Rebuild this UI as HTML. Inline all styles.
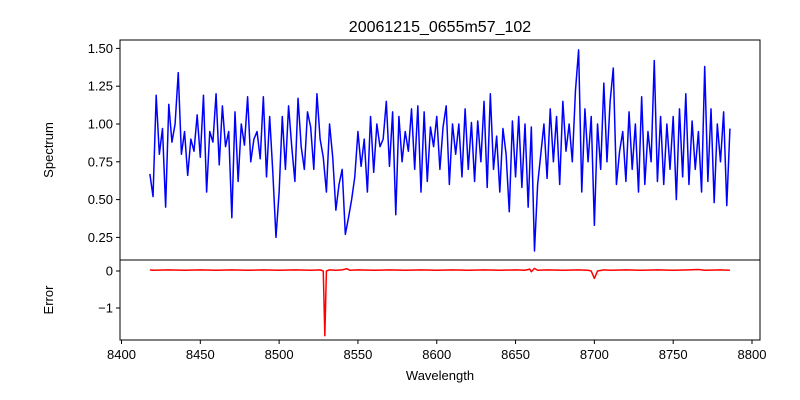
<!DOCTYPE html>
<html><head><meta charset="utf-8"><style>
body{margin:0;background:#fff;}
svg{display:block;font-family:"Liberation Sans","DejaVu Sans",sans-serif;}
</style></head><body>
<svg id="chart" width="800" height="400" xmlns="http://www.w3.org/2000/svg">
<rect width="800" height="400" fill="#fff"/>
<text x="440" y="32" font-size="16" text-anchor="middle">20061215_0655m57_102</text>
<g id="topPanel"></g>
<g id="botPanel"></g>
<text transform="translate(53,150) rotate(-90)" font-size="13" text-anchor="middle">Spectrum</text>
<text transform="translate(53,300) rotate(-90)" font-size="13" text-anchor="middle">Error</text>
<text x="440" y="380" font-size="13" text-anchor="middle">Wavelength</text>
</svg>
<script>
const specStart = 8418, specStep = 2;
const specValues = [
0.67,0.52,1.19,0.80,0.97,0.45,1.13,0.88,1.00,1.34,
0.80,0.95,0.66,0.90,0.82,1.06,0.78,1.19,0.55,0.95,
0.88,1.20,0.73,1.12,0.85,0.95,0.38,1.08,0.62,1.00,
0.86,1.18,0.75,0.90,0.95,0.77,1.18,0.65,1.05,0.68,
0.25,0.55,1.05,0.70,1.12,0.85,0.62,1.17,0.85,0.70,
1.08,0.98,0.70,1.20,0.90,0.78,0.55,1.00,0.78,0.43,
0.60,0.70,0.27,0.38,0.50,0.65,0.95,0.72,0.90,0.55,
1.05,0.68,1.00,0.85,0.90,1.15,0.72,1.08,0.40,1.05,
0.75,0.95,0.82,1.10,0.70,1.12,0.55,1.08,0.62,0.98,
0.85,1.05,0.70,0.98,1.12,0.60,1.00,0.80,1.00,0.65,
1.10,0.70,1.01,0.62,1.02,0.75,1.15,0.58,1.20,0.70,
0.92,0.55,0.97,0.80,0.42,1.02,0.65,1.05,0.58,1.00,
0.45,0.98,0.16,0.60,0.80,1.00,0.64,1.10,0.75,1.05,
0.60,1.15,0.82,1.00,0.75,1.22,1.49,0.55,1.10,0.75,
1.05,0.33,1.00,0.70,1.27,0.75,1.15,1.37,0.60,0.82,
0.95,0.62,1.08,0.70,1.00,0.55,1.18,0.60,0.95,0.75,
1.42,0.62,1.05,0.60,1.00,0.70,1.05,0.50,1.10,0.65,
1.20,0.60,1.02,0.70,0.95,0.55,1.38,0.62,1.10,0.48,
1.00,0.75,1.08,0.46,0.97
];
const errWave = [8418,8420,8430,8440,8450,8460,8470,8480,8490,8500,8510,8520,8526,8528,8529,8530,8532,8536,8540,8543,8545,8550,8560,8570,8580,8590,8600,8610,8620,8630,8640,8650,8656,8659,8660,8662,8664,8670,8680,8690,8696,8698,8700,8702,8706,8710,8720,8730,8740,8750,8760,8766,8770,8780,8786];
const errValues = [0.03,0.02,0.03,0.02,0.03,0.02,0.03,0.02,0.03,0.02,0.03,0.02,0.03,0.0,-1.75,0.0,0.03,0.02,0.03,0.06,0.02,0.03,0.02,0.03,0.02,0.03,0.02,0.03,0.02,0.03,0.02,0.03,0.02,0.05,-0.02,0.07,0.02,0.03,0.02,0.03,0.02,0.0,-0.2,0.0,0.03,0.02,0.03,0.02,0.03,0.02,0.03,0.04,0.02,0.03,0.02];
const xTicks = [8400,8450,8500,8550,8600,8650,8700,8750,8800];
const topTicks = [0.25,0.50,0.75,1.00,1.25,1.50];
const botTicks = [0,-1];

const NS = "http://www.w3.org/2000/svg";
const L = 120, R = 760;
const xs = v => 121.5 + (v - 8400) * (630.5 / 400);
const ysTop = v => 124 - (v - 1.0) * 151.2;
const ysBot = v => 271 - v * 37;
function mk(tag, attrs, parent){const e=document.createElementNS(NS,tag);for(const k in attrs)e.setAttribute(k,attrs[k]);parent.appendChild(e);return e;}
const topG = document.getElementById('topPanel'), botG = document.getElementById('botPanel');

let d = specValues.map((v,i)=>(i?'L':'M')+xs(specStart+i*specStep).toFixed(2)+' '+ysTop(v).toFixed(2)).join(' ');
const sp = mk('path',{d:d,fill:'none',stroke:'#0000ff','stroke-width':1.5,'stroke-linejoin':'round'},topG);


d = errValues.map((v,i)=>(i?'L':'M')+xs(errWave[i]).toFixed(2)+' '+ysBot(v).toFixed(2)).join(' ');
const ep = mk('path',{d:d,fill:'none',stroke:'#ff0000','stroke-width':1.5,'stroke-linejoin':'round'},botG);



const f1 = mk('rect',{x:L,y:40,width:R-L,height:220,fill:'none',stroke:'#000','stroke-width':1},topG);


const f2 = mk('rect',{x:L,y:260,width:R-L,height:80,fill:'none',stroke:'#000','stroke-width':1},botG);



topTicks.forEach(t=>{
  const y=ysTop(t);
  mk('line',{x1:L-4,x2:L,y1:y,y2:y,stroke:'#000'},topG);
  const tx=mk('text',{x:L-7,y:y+4.5,'font-size':13,'text-anchor':'end'},topG);
  tx.textContent=t.toFixed(2);
  
  
});
botTicks.forEach(t=>{
  const y=ysBot(t);
  mk('line',{x1:L-4,x2:L,y1:y,y2:y,stroke:'#000'},botG);
  const tx=mk('text',{x:L-7,y:y+4.5,'font-size':13,'text-anchor':'end'},botG);
  tx.textContent=t===0?'0':'\u22121';
  
  
});
xTicks.forEach(t=>{
  const x=xs(t);
  mk('line',{x1:x,x2:x,y1:340,y2:344,stroke:'#000'},botG);
  const tx=mk('text',{x:x,y:359,'font-size':13,'text-anchor':'middle'},botG);
  tx.textContent=t;
  
  
});
</script>
</body></html>
